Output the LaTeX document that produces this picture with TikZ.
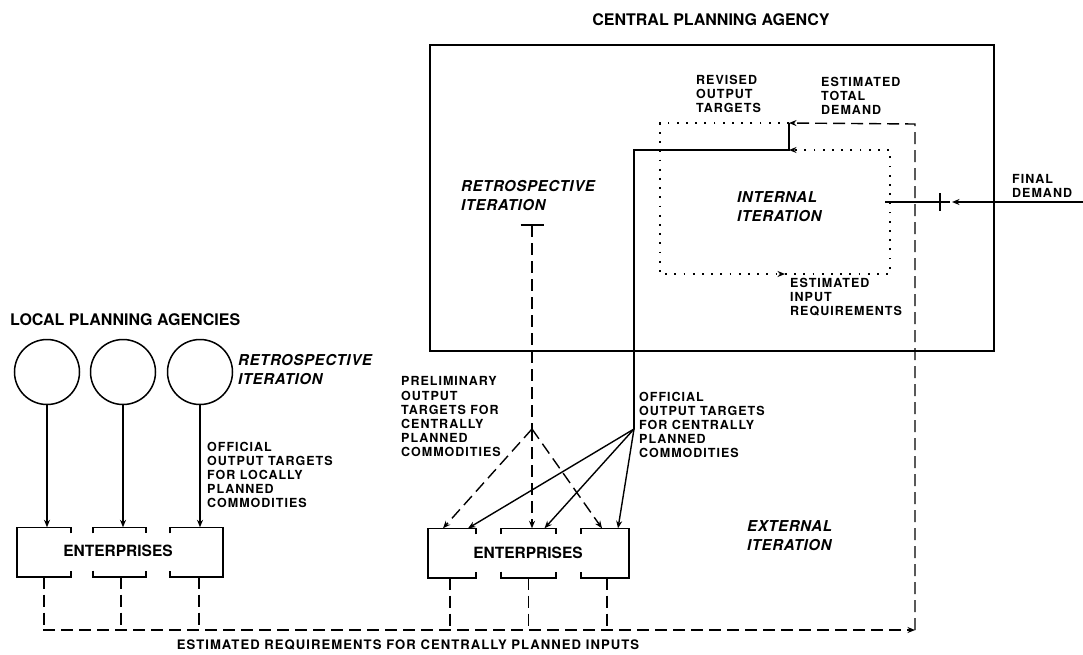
\documentclass[tikz,border=0pt]{standalone}
\usepackage{fontspec}
\setmainfont{TeX Gyre Heros}
\newfontfamily\labfont[LetterSpace=8]{TeX Gyre Heros}
\newfontfamily\itfont[LetterSpace=4]{TeX Gyre Heros}
\usetikzlibrary{arrows.meta}
\begin{document}
\begin{tikzpicture}[x=1pt,y=-1pt,
  lab/.style={font={\labfont\bfseries\fontsize{12.5}{14.2}\selectfont}, align=left, inner sep=0pt, anchor=west},
  itlab/.style={font={\itfont\bfseries\itshape\fontsize{15}{19}\selectfont}, align=left, inner sep=0pt, anchor=west},
  titlelab/.style={font={\bfseries\fontsize{16}{18}\selectfont}, inner sep=0pt},
  entlab/.style={font={\bfseries\fontsize{15.5}{18}\selectfont}, inner sep=0pt},
  box/.style={draw, line width=1.8pt, inner sep=0pt},
  agency/.style={draw, circle, line width=1.5pt, minimum size=65pt, inner sep=0pt},
  ebox/.style={inner sep=0pt, minimum height=49pt},
  eline/.style={line width=1.6pt},
  ln/.style={line width=1.4pt},
  dsh/.style={line width=1.4pt, dash pattern=on 12pt off 6pt},
  dot/.style={line width=1.8pt, dash pattern=on 1.8pt off 7.4pt},
  arr/.style={-{Stealth[length=7.5pt,width=6pt]}}
]
\useasboundingbox (0,0) rectangle (1083,654);
\fill[white] (0,0) rectangle (1083,654);

% central planning agency
\node[box, minimum width=564pt, minimum height=306pt] (cpa) at (712,198) {};
\node[titlelab] (cpaT) at (711,20) {CENTRAL PLANNING AGENCY};
\node[titlelab, anchor=west] (lpaT) at (10,320) {LOCAL PLANNING AGENCIES};

% local agencies
\node[agency] (c1) at (47,372) {};
\node[agency] (c2) at (123,372) {};
\node[agency] (c3) at (200,372) {};

% local enterprises
\node[ebox, minimum width=54pt] (l1) at (44,552) {};
\node[ebox, minimum width=53pt] (l2) at (119.5,552) {};
\node[ebox, minimum width=53pt] (l3) at (196.5,552) {};
\node[entlab] (lent) at (118,551) {ENTERPRISES};

% central enterprises
\node[ebox, minimum width=48pt] (e1) at (452,553) {};
\node[ebox, minimum width=55pt] (e2) at (528.5,553) {};
\node[ebox, minimum width=48pt] (e3) at (605,553) {};
\node[entlab] (cent) at (528,553) {ENTERPRISES};

% bracket shapes of enterprise boxes
\foreach \b in {l1,e1}{
  \draw[eline] ([yshift=-6pt]\b.north east) -- (\b.north east) -- (\b.north west) -- (\b.south west) -- (\b.south east) -- ([yshift=6pt]\b.south east);
}
\foreach \b in {l2,e2}{
  \draw[eline] ([yshift=-6pt]\b.north west) -- (\b.north west) -- (\b.north east) -- ([yshift=-6pt]\b.north east);
  \draw[eline] ([yshift=6pt]\b.south west) -- (\b.south west) -- (\b.south east) -- ([yshift=6pt]\b.south east);
}
\foreach \b in {l3,e3}{
  \draw[eline] ([yshift=-6pt]\b.north west) -- (\b.north west) -- (\b.north east) -- (\b.south east) -- (\b.south west) -- ([yshift=6pt]\b.south west);
}

% local arrows
\draw[ln, arr] (c1.south) -- (c1.south |- l1.north);
\draw[ln, arr] (c2.south) -- (c2.south |- l2.north);
\draw[ln, arr] (c3.south) -- (c3.south |- l3.north);

% coordinates
\coordinate (bl) at (43,630);
\coordinate (corner) at (915,630);
\coordinate (ne) at (915,124);
\coordinate (tdA) at (789,123);
\coordinate (dTL) at (660,123);
\coordinate (dBL) at (660,274);
\coordinate (irA) at (785,274);
\coordinate (dBR) at (890,274);
\coordinate (dTR) at (890,150);
\coordinate (inA) at (789,150);
\coordinate (sC) at (634,150);
\coordinate (fan) at (634,429);
\coordinate (tbar) at (532,225);
\coordinate (split) at (532,429);
\coordinate (fdE) at (1083,202);
\coordinate (plus) at (940,202);
\coordinate (fdW) at (885,202);

% requirements flow (dashed)
\draw[dsh] (l1.south) -- (l1.south |- bl);
\draw[dsh] ([xshift=1.5pt]l2.south) -- ([xshift=1.5pt]l2.south |- bl);
\draw[dsh] ([xshift=2.5pt]l3.south) -- ([xshift=2.5pt]l3.south |- bl);
\draw[dsh] ([xshift=-2pt]e1.south) -- ([xshift=-2pt]e1.south |- bl);
\draw[dsh] (e2.south) -- (e2.south |- bl);
\draw[dsh] ([xshift=2pt]e3.south) -- ([xshift=2pt]e3.south |- bl);
\draw[dsh, arr] (bl) -- (corner);
\draw[dsh, arr] (corner) -- (ne) -- (tdA);

% internal iteration (dotted)
\draw[dot] (tdA) -- (dTL) -- (dBL) -- ([xshift=-6pt]irA);
\draw[ln, arr] ([xshift=-3pt]irA) -- (irA);
\draw[dot] (irA) -- (dBR) -- (dTR) -- ([xshift=6pt]inA);
\draw[ln, arr] ([xshift=3pt]inA) -- (inA);

% official output targets (solid)
\draw[ln] (tdA) -- (inA) -- (sC) -- (fan);
\draw[ln, arr] (fan) -- ([xshift=16pt]e1.north);
\draw[ln, arr] (fan) -- ([xshift=16pt]e2.north);
\draw[ln, arr] (fan) -- ([xshift=13pt]e3.north);

% retrospective iteration (dashed)
\draw[ln] ([xshift=-11.5pt]tbar) -- ([xshift=11.5pt]tbar);
\draw[dsh] (tbar) -- (split);
\draw[dsh, arr] (split) -- ([xshift=-9pt]e1.north);
\draw[dsh, arr] (split) -- (split |- e2.north);
\draw[dsh, arr] (split) -- ([xshift=-3pt]e3.north);

% final demand
\draw[ln, arr] (fdE) -- ([xshift=12pt]plus);
\draw[ln] ([xshift=10pt]plus) -- (fdW);
\draw[ln] ([yshift=9pt]plus) -- ([yshift=-9pt]plus);

% labels
\node[lab] (rev) at (696,94) {REVISED\\OUTPUT\\TARGETS};
\node[lab] (etd) at (821,96) {ESTIMATED\\TOTAL\\DEMAND};
\node[lab] (eir) at (790,297) {ESTIMATED\\INPUT\\REQUIREMENTS};
\node[lab] (fd) at (1012,186) {FINAL\\DEMAND};
\node[itlab] (ii) at (737,207) {INTERNAL\\ITERATION};
\node[itlab] (ri) at (461,196) {RETROSPECTIVE\\ITERATION};
\node[itlab] (ei) at (747,536) {EXTERNAL\\ITERATION};
\node[itlab] (lri) at (238,370) {RETROSPECTIVE\\ITERATION};
\node[lab] (loot) at (207,475) {OFFICIAL\\OUTPUT TARGETS\\FOR LOCALLY\\PLANNED\\COMMODITIES};
\node[lab] (pot) at (401,417) {PRELIMINARY\\OUTPUT\\TARGETS FOR\\CENTRALLY\\PLANNED\\COMMODITIES};
\node[lab] (coot) at (639,425) {OFFICIAL\\OUTPUT TARGETS\\FOR CENTRALLY\\PLANNED\\COMMODITIES};
\node[lab, anchor=center, font={\labfont\bfseries\fontsize{13.1}{15}\selectfont}] (req) at (408,645) {ESTIMATED REQUIREMENTS FOR CENTRALLY PLANNED INPUTS};
\end{tikzpicture}
\end{document}
